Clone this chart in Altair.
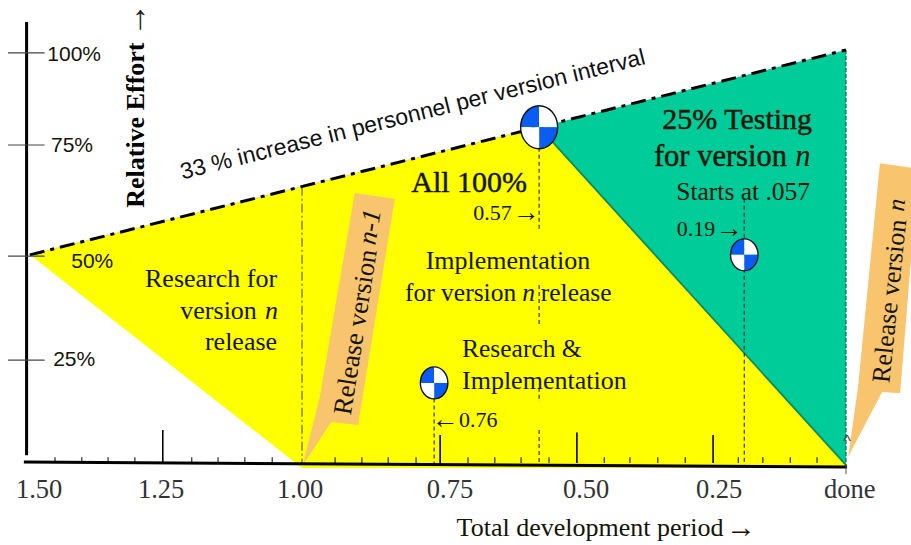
import altair as alt
import pandas as pd

# Plane: x is the share of the development period left, y is relative effort in percent.
SERIF = "Liberation Serif"
SANS = "Liberation Sans"
INK = "#141408"

x_scale = alt.Scale(domain=[1.5466, -0.1188], nice=False, zero=False)
y_scale = alt.Scale(domain=[-19.85, 112.1], nice=False, zero=False)

# Effort regions
yellow_x = [1.492, 0.9945, 0.561, 0.0]
yellow_top = [50.4, 66.9, 81.3, -0.5]
yellow_low = [50.4, -1.2, -1.2, -1.2]
green_x = [0.561, 0.0, 0.0]
green_y = [81.3, 100.0, -0.5]

# Release callouts
callout_prev_x = [0.898, 0.825, 0.892, 0.941, 0.993, 0.962]
callout_prev_y = [65.4, 63.9, 9.2, 9.9, -0.5, 16.0]
callout_next_x = [-0.062, -0.132, -0.099, -0.066, -0.004, -0.022]
callout_next_y = [72.6, 71.2, 16.9, 17.2, 1.5, 18.4]

# Staffing line
staff_x = [1.492, 0.0]
staff_y = [50.4, 100.0]

# Axes
y_tick_values = [99.3, 77.0, 50.1, 24.9]
y_tick_text = ["100%", "75%", "50%", "25%"]
y_tick_text_x = [1.411, 1.415, 1.378, 1.411]
y_tick_text_y = [98.8, 76.8, 48.7, 24.9]
x_tick_text = ["1.50", "1.25", "1.00", "0.75", "0.50", "0.25", "done"]
x_tick_text_x = [1.475, 1.252, 0.998, 0.724, 0.475, 0.232, -0.007]
x_major = [1.249, 0.742, 0.492, 0.243]
x_major_top = [8.0, 6.8, 7.4, 6.8]
x_minor = [1.446, 1.397, 1.349, 1.300, 1.196, 1.148, 1.099, 1.049, 0.934, 0.885, 0.837, 0.786,
           0.691, 0.642, 0.594, 0.543, 0.442, 0.395, 0.344, 0.294, 0.197, 0.152, 0.102, 0.053]

# Phase markers (x, y) and their drop lines (x, top of line)
marker_x = [0.561, 0.186, 0.753]
marker_y = [81.3, 50.4, 19.4]
drop_x = [0.9945, 0.186, 0.753, 0.0]
drop_top = [66.9, 64.0, 15.6, 100.0]

# The 0.57 drop line is broken into runs between the labels it passes
drop_57_x = 0.561
drop_57_runs = [(76.3, 56.4), (43.1, 33.2), (18.2, 14.8), (8.0, 0.0)]


def xy(field_x="x", field_y="y"):
    return {
        "x": alt.X(f"{field_x}:Q", scale=x_scale, axis=None),
        "y": alt.Y(f"{field_y}:Q", scale=y_scale, axis=None),
    }


def polygon(xs, ys, color, edge=None, width=0):
    df = pd.DataFrame({"x": xs, "y": ys, "i": range(len(xs))})
    df = pd.concat([df, df.iloc[[0]].assign(i=len(xs))])
    mark = alt.Chart(df).mark_line(fill=color, stroke=edge or color, strokeWidth=width, clip=True)
    return mark.encode(order="i:Q", **xy())


def segment(x0, y0, x1, y1, color="#000000", width=1.0, dash=None):
    df = pd.DataFrame({"x": [x0], "y": [y0], "x2": [x1], "y2": [y1]})
    opts = {"strokeDash": dash} if dash else {}
    return alt.Chart(df).mark_rule(color=color, strokeWidth=width, **opts).encode(
        x2="x2:Q", y2="y2:Q", **xy()
    )


def text(label, x, y, size, font=SERIF, align="center", angle=0, color=INK, **style):
    df = pd.DataFrame({"x": [x], "y": [y], "label": [label]})
    return alt.Chart(df).mark_text(
        font=font, fontSize=size, align=align, baseline="middle", angle=angle, color=color, **style
    ).encode(text="label:N", **xy())


def disc(x, y, size):
    # Two blue and two white quadrants of an upright ellipse, outlined in black.
    df = pd.DataFrame({"x": [x], "y": [y]})
    rx = 0.86
    quads = [
        (f"M0,0 L{-rx},0 A{rx},1 0 0 1 0,-1 Z", "#0b5cf0"),
        (f"M0,0 L0,-1 A{rx},1 0 0 1 {rx},0 Z", "#ffffff"),
        (f"M0,0 L{rx},0 A{rx},1 0 0 1 0,1 Z", "#0b5cf0"),
        (f"M0,0 L0,1 A{rx},1 0 0 1 {-rx},0 Z", "#ffffff"),
    ]
    parts = [
        alt.Chart(df).mark_point(shape=path, size=size, filled=True, fill=col, stroke=col, strokeWidth=0, opacity=1).encode(**xy())
        for path, col in quads
    ]
    outline = f"M{-rx},0 A{rx},1 0 0 1 {rx},0 A{rx},1 0 0 1 {-rx},0 Z"
    parts.append(
        alt.Chart(df).mark_point(shape=outline, size=size, filled=False, stroke="#101020", strokeWidth=1.4, opacity=1).encode(**xy())
    )
    return parts


layers = []
heavy = {"stroke": INK, "strokeWidth": 0.45}

# Regions
yellow = pd.DataFrame({"x": yellow_x, "y": yellow_top, "y2": yellow_low})
layers.append(
    alt.Chart(yellow)
    .mark_area(color="#ffff00", opacity=1, line={"color": "#e3d35a", "strokeWidth": 0.8})
    .encode(y2="y2:Q", **xy())
)
layers.append(polygon(green_x, green_y, "#00cc99"))
layers.append(segment(green_x[0], green_y[0], green_x[2], green_y[2], color="#0a8a68", width=1.8))
layers.append(polygon(callout_prev_x, callout_prev_y, "#f9c46e"))
layers.append(polygon(callout_next_x, callout_next_y, "#f9c46e"))

# Drop lines
layers.append(segment(drop_x[0], drop_top[0], drop_x[0], -0.5, color="#55551a", width=1.1, dash=[9, 3, 2, 3]))
for i in (1, 2):
    layers.append(segment(drop_x[i], drop_top[i], drop_x[i], -0.7, color="#222222", width=1.1, dash=[4, 3]))
for top, low in drop_57_runs:
    layers.append(segment(drop_57_x, top, drop_57_x, low, color="#222222", width=1.1, dash=[4, 3]))
layers.append(segment(drop_x[3], drop_top[3], drop_x[3], -0.7, color="#0c5f4a", width=1.1, dash=[4, 2]))

# Staffing line
layers.append(segment(staff_x[0], staff_y[0], staff_x[1], staff_y[1], width=3, dash=[15, 6, 4, 6]))

# Vertical axis
layers.append(segment(1.498, 106.8, 1.498, 1.9, width=3))
for v in y_tick_values:
    layers.append(segment(1.532, v, 1.465, v, color="#444444", width=1.1))
for lab, tx, ty in zip(y_tick_text, y_tick_text_x, y_tick_text_y):
    layers.append(text(lab, tx, ty, 21, font=SANS))

# Horizontal axis
layers.append(segment(1.503, 0.24, -0.002, -0.97, width=3))
for v in x_minor:
    layers.append(segment(v, 1.4, v, 0.0, width=1))
for v, top in zip(x_major, x_major_top):
    layers.append(segment(v, top, v, 0.0, width=1.6))
layers.append(segment(0.0, -0.7, 0.0, -2.7, color="#555555", width=1))
layers.append(text("^", -0.002, 5.0, 17, font=SANS, color="#444444"))
for lab, tx in zip(x_tick_text, x_tick_text_x):
    layers.append(text(lab, tx, -6.5, 26.5, color="#333333"))
layers.append(text("Total development period", 0.468, -15.7, 26))
layers.append(text("→", 0.192, -15.7, 30))

# Axis title
layers.append(text("Relative Effort", 1.298, 81.8, 26, angle=270, fontWeight="bold", color="#000000"))
layers.append(text("→", 1.298, 107.3, 34, angle=270, color="#222222"))

# Staffing annotation
layers.append(text("33 % increase in personnel per version interval", 0.792, 84.3, 23, font=SANS, angle=346, color="#111111"))

# Region labels
layers.append(text("All 100%", 0.689, 67.9, 30, **heavy))
layers.append(text("0.57", 0.611, 60.5, 22, align="right"))
layers.append(text("→", 0.585, 60.5, 27))
layers.append(text("25% Testing", 0.199, 83.1, 30, **heavy))
layers.append(text("for version", 0.108, 74.1, 30.5, align="right", **heavy))
layers.append(text("n", 0.093, 74.1, 30.5, align="left", fontStyle="italic"))
layers.append(text("Starts at .057", 0.188, 65.6, 25.5))
layers.append(text("0.19", 0.239, 56.7, 22, align="right"))
layers.append(text("→", 0.214, 56.7, 27))
layers.append(text("Research for", 1.040, 44.6, 26, align="right"))
layers.append(text("version", 1.077, 36.8, 26, align="right"))
layers.append(text("n", 1.062, 36.8, 26, align="left", fontStyle="italic"))
layers.append(text("release", 1.040, 29.3, 26, align="right"))
layers.append(text("Implementation", 0.618, 48.9, 26))
layers.append(text("for version", 0.603, 41.2, 25.5, align="right"))
layers.append(text("n", 0.580, 41.2, 25.5, fontStyle="italic"))
layers.append(text("release", 0.558, 41.2, 25.5, align="left"))
layers.append(text("Research &", 0.702, 27.6, 25.5, align="left"))
layers.append(text("Implementation", 0.702, 19.9, 26, align="left"))
layers.append(text("←", 0.733, 10.4, 27))
layers.append(text("0.76", 0.7075, 10.4, 22, align="left"))

# Release callout labels
layers.append(text("Release version", 0.896, 31.7, 26.5, angle=279))
layers.append(text("n-1", 0.870, 57.1, 26.5, angle=279, fontStyle="italic"))
layers.append(text("Release version", -0.080, 39.2, 26, angle=276))
layers.append(text("n", -0.092, 62.5, 25, angle=276, fontStyle="italic"))

# Phase markers
layers += disc(marker_x[0], marker_y[0], 1849)
layers += disc(marker_x[1], marker_y[1], 1024)
layers += disc(marker_x[2], marker_y[2], 1024)

chart = alt.layer(*layers).properties(
    width=911,
    height=545,
    padding=0,
    autosize=alt.AutoSizeParams(type="none", contains="padding"),
    background="#ffffff",
).configure_view(stroke=None)

chart.save("out.html", embed_options={"renderer": "svg", "actions": False})
